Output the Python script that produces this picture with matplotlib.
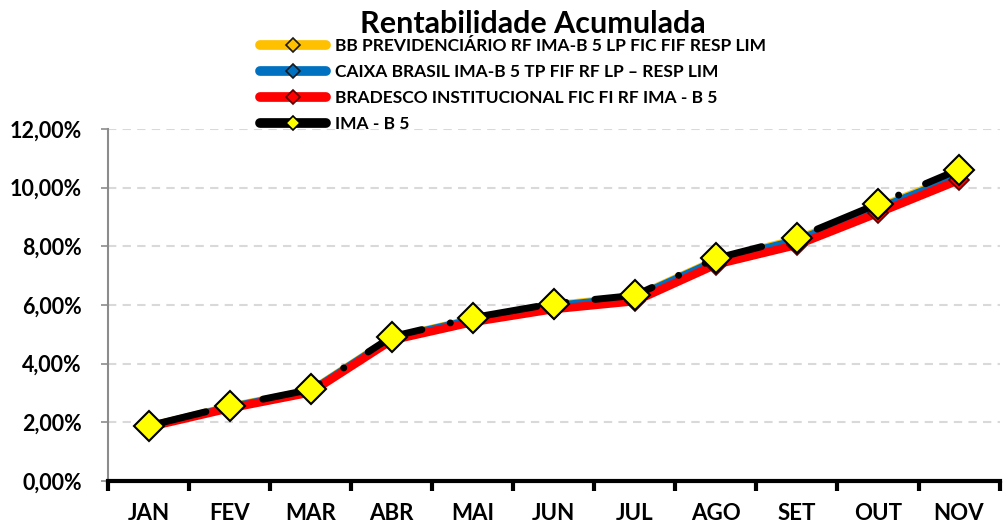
import matplotlib
matplotlib.use("Agg")
import matplotlib.pyplot as plt
from matplotlib.lines import Line2D
from matplotlib.ticker import FuncFormatter, FixedLocator
import numpy as np

plt.rcParams["font.family"] = ["Lato", "DejaVu Sans"]
plt.rcParams["font.weight"] = "bold"

months = ["JAN", "FEV", "MAR", "ABR", "MAI", "JUN", "JUL", "AGO", "SET", "OUT", "NOV"]
series_names = [
    "BB PREVIDENCIÁRIO RF IMA-B 5 LP FIC FIF RESP LIM",
    "CAIXA BRASIL IMA-B 5 TP FIF RF LP – RESP LIM",
    "BRADESCO INSTITUCIONAL FIC FI RF IMA - B 5",
    "IMA - B 5",
]
bb = [1.88, 2.55, 3.10, 4.90, 5.53, 6.01, 6.30, 7.55, 8.26, 9.34, 10.45]
caixa = [1.87, 2.53, 3.08, 4.88, 5.51, 5.98, 6.27, 7.52, 8.22, 9.30, 10.40]
bradesco = [1.84, 2.48, 3.02, 4.80, 5.42, 5.86, 6.13, 7.38, 8.05, 9.14, 10.26]
imab5 = [1.88, 2.56, 3.12, 4.92, 5.57, 6.05, 6.33, 7.59, 8.30, 9.45, 10.62]

fig = plt.figure(figsize=(10.04, 5.23), dpi=100)
ax = fig.add_axes([0.1076, 0.0803, 0.888, 0.673])
x = np.arange(len(months))

# fund lines
ax.plot(x, bb, color="#ffc000", lw=5, solid_capstyle="round", solid_joinstyle="round",
        marker="D", ms=8, mfc="#ffc000", mec="#1a1a1a", mew=1, zorder=3)
ax.plot(x, caixa, color="#0070c0", lw=5, solid_capstyle="round", solid_joinstyle="round",
        marker="D", ms=8, mfc="#0070c0", mec="#1a1a1a", mew=1, zorder=4)
ax.plot(x, bradesco, color="#ff0000", lw=6, solid_capstyle="round", solid_joinstyle="round",
        marker="D", ms=10, mfc="#ff0000", mec="#5a0000", mew=1.2, zorder=5)
# benchmark, long dash - dot
ax.plot(x, imab5, color="black", lw=5, linestyle=(0, (8.5, 4.2, 0.01, 4.2)),
        dash_capstyle="round", dash_joinstyle="round", zorder=6)
ax.plot(x, imab5, linestyle="none", marker="D", ms=15, mfc="#ffff00", mec="black",
        mew=1.5, zorder=7)

ax.set_xlim(-0.5, len(months) - 0.5)
ax.set_ylim(0, 12)
ax.set_yticks(np.arange(0, 12.01, 2))
ax.yaxis.set_major_formatter(FuncFormatter(lambda v, p: f"{v:.2f}%".replace(".", ",")))
ax.grid(axis="y", color="#d9d9d9", linestyle=(0, (4, 3)), lw=1.5)
ax.set_axisbelow(True)

ax.xaxis.set_major_locator(FixedLocator(np.arange(-0.5, len(months), 1)))
ax.xaxis.set_major_formatter(FuncFormatter(lambda v, p: ""))
ax.set_xticks(x, minor=True)
ax.set_xticklabels(months, minor=True)
ax.tick_params(axis="x", which="major", length=7, width=3, color="black", direction="out")
ax.tick_params(axis="x", which="minor", length=0, pad=16, labelsize=16)
ax.tick_params(axis="y", length=5, width=1.2, color="#8c8c8c", labelsize=15.5, pad=14)

for s in ["top", "right"]:
    ax.spines[s].set_visible(False)
ax.spines["left"].set_color("#8c8c8c")
ax.spines["left"].set_linewidth(1.5)
ax.spines["bottom"].set_color("black")
ax.spines["bottom"].set_linewidth(3)
ax.spines["bottom"].set_zorder(8)

fig.text(0.531, 0.955, "Rentabilidade Acumulada", ha="center", va="center",
         fontsize=22, fontweight="bold")

handles = [
    Line2D([], [], color="#ffc000", lw=7, solid_capstyle="round", marker="D", ms=7,
           mfc="#ffc000", mec="#1a1a1a", mew=1.2),
    Line2D([], [], color="#0070c0", lw=7, solid_capstyle="round", marker="D", ms=7,
           mfc="#0070c0", mec="#1a1a1a", mew=1.2),
    Line2D([], [], color="#ff0000", lw=7, solid_capstyle="round", marker="D", ms=7,
           mfc="#ff0000", mec="#5a0000", mew=1.2),
    Line2D([], [], color="black", lw=7, solid_capstyle="round", marker="D", ms=7,
           mfc="#ffff00", mec="black", mew=1.2),
]
fig.legend(handles, series_names, loc="upper left", bbox_to_anchor=(0.259, 0.928),
           frameon=False, handlelength=3.8, handletextpad=0.5, labelspacing=0.58,
           fontsize=12.5, borderaxespad=0, borderpad=0)

fig.savefig("out.png", dpi=100)
